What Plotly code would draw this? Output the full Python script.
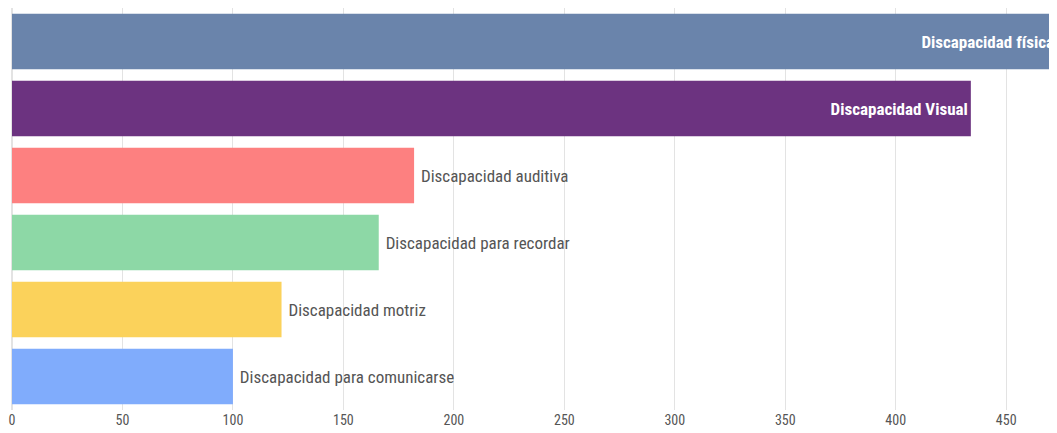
import plotly.graph_objects as go

categories = ["Discapacidad física", "Discapacidad Visual", "Discapacidad auditiva",
              "Discapacidad para recordar", "Discapacidad motriz", "Discapacidad para comunicarse"]
values = [473, 434, 182, 166, 122, 100]
colors = ["#6a84ab", "#6c3380", "#fd8080", "#8dd8a6", "#fbd25b", "#80acfc"]
tick_vals = [0, 50, 100, 150, 200, 250, 300, 350, 400, 450]

positions = ["inside", "inside", "outside", "outside", "outside", "outside"]
texts = [f"<b>{c}</b>" if p == "inside" else " " + c for c, p in zip(categories, positions)]

font_family = "Liberation Sans Narrow, Roboto Condensed, DejaVu Sans Condensed, sans-serif"

fig = go.Figure(go.Bar(
    x=values,
    y=categories,
    orientation="h",
    marker=dict(color=colors, line=dict(width=0)),
    text=texts,
    textposition=positions,
    insidetextanchor="end",
    insidetextfont=dict(color="white", size=17, family=font_family),
    outsidetextfont=dict(color="#555555", size=17, family=font_family),
    textangle=0,
    cliponaxis=False,
    hoverinfo="x+y",
))

fig.update_layout(
    width=1057, height=425,
    margin=dict(l=4, r=8, t=0, b=23),
    paper_bgcolor="white", plot_bgcolor="white",
    bargap=0.17,
    showlegend=False,
    font=dict(family=font_family, color="#555555", size=14),
)
fig.update_xaxes(range=[0, 473], tickvals=tick_vals, showgrid=True, gridcolor="#e3e3e3",
                 gridwidth=1, zeroline=True, zerolinecolor="#e3e3e3", ticks="",
                 tickfont=dict(size=14, color="#555555"), fixedrange=True)
fig.update_yaxes(autorange="reversed", showticklabels=False, showgrid=False, ticks="",
                 fixedrange=True)

fig.write_html("out.html")
